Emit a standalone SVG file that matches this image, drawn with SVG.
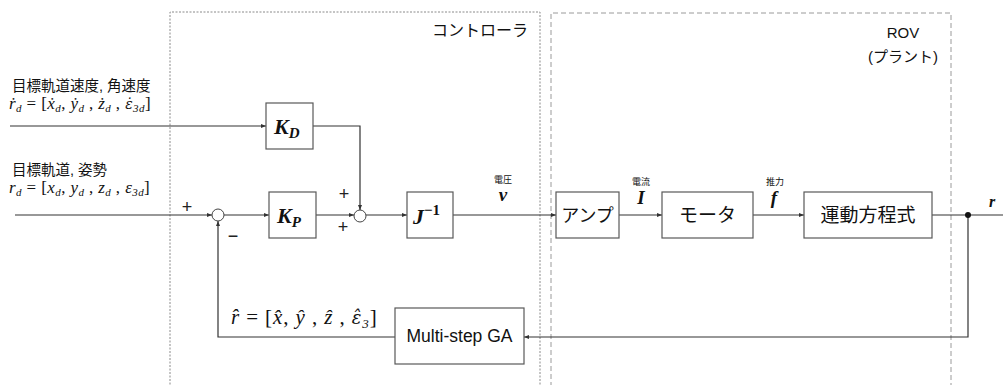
<svg xmlns="http://www.w3.org/2000/svg" width="1003" height="385" viewBox="0 0 1003 385">
<style>
.box{fill:#fff;stroke:#595959;stroke-width:1.2}
.ln{fill:none;stroke:#333;stroke-width:1.2}
.jp{font-family:"Liberation Sans","Noto Sans CJK JP",sans-serif;fill:#111}
.m{font-family:"Liberation Serif","DejaVu Serif",serif;font-style:italic;fill:#111}
.mb{font-family:"Liberation Serif","DejaVu Serif",serif;font-style:italic;font-weight:bold;fill:#111}
.up{font-family:"Liberation Serif",serif;font-style:normal;fill:#111}
.dv{font-family:"DejaVu Serif",serif;font-style:italic}
.pm{font-family:"Liberation Sans",sans-serif;fill:#222;font-size:18px;text-anchor:middle}
</style>
<defs>
<marker id="ah" markerWidth="6" markerHeight="6" refX="5" refY="3" orient="auto" markerUnits="userSpaceOnUse">
<path d="M0,1 L5,3 L0,5 Z" fill="#333"/>
</marker>
</defs>
<rect width="1003" height="385" fill="#fff"/>
<g id="controller-frame">
<path d="M170,395 V12 H540 V395" fill="none" stroke="#8a8a8a" stroke-width="1" stroke-dasharray="2,1.5"/>
<text class="jp" x="528" y="36" font-size="16" text-anchor="end">コントローラ</text>
</g>
<g id="plant-frame">
<path d="M551,395 V13 H951 V395" fill="none" stroke="#9a9a9a" stroke-width="1" stroke-dasharray="5,3"/>
<text class="jp" x="903" y="38" font-size="15" text-anchor="middle">ROV</text>
<text class="jp" x="903" y="62" font-size="15" text-anchor="middle">(プラント)</text>
</g>
<g id="inputs">
<text class="jp" x="12" y="91" font-size="14.5">目標軌道速度, 角速度</text>
<text class="m" x="9" y="109" font-size="17" letter-spacing="0.4">ṙ<tspan font-size="11" dy="3">d</tspan><tspan class="up" dy="-3"> = [</tspan>ẋ<tspan font-size="11" dy="3">d</tspan><tspan class="up" dy="-3">, </tspan>ẏ<tspan font-size="11" dy="3">d</tspan><tspan class="up" dy="-3"> , </tspan>ż<tspan font-size="11" dy="3">d</tspan><tspan class="up" dy="-3"> , </tspan><tspan class="dv" font-size="14">ε̇</tspan><tspan font-size="11" dy="3">3d</tspan><tspan class="up" dy="-3">]</tspan></text>
<text class="jp" x="12" y="175" font-size="14.5">目標軌道, 姿勢</text>
<text class="m" x="9" y="193" font-size="17" letter-spacing="0.4">r<tspan font-size="11" dy="3">d</tspan><tspan class="up" dy="-3"> = [</tspan>x<tspan font-size="11" dy="3">d</tspan><tspan class="up" dy="-3">, </tspan>y<tspan font-size="11" dy="3">d</tspan><tspan class="up" dy="-3"> , </tspan>z<tspan font-size="11" dy="3">d</tspan><tspan class="up" dy="-3"> , </tspan>ε<tspan font-size="11" dy="3">3d</tspan><tspan class="up" dy="-3">]</tspan></text>
</g>
<g id="connectors">
<path class="ln" d="M10,126 H266" marker-end="url(#ah)"/>
<path class="ln" d="M313,126 H360 V210" marker-end="url(#ah)"/>
<path class="ln" d="M15,215 H212" marker-end="url(#ah)"/>
<path class="ln" d="M224,215 H269" marker-end="url(#ah)"/>
<path class="ln" d="M316,215 H354" marker-end="url(#ah)"/>
<path class="ln" d="M366,215 H407" marker-end="url(#ah)"/>
<path class="ln" d="M453,215 H556" marker-end="url(#ah)"/>
<path class="ln" d="M619,215 H662" marker-end="url(#ah)"/>
<path class="ln" d="M753,215 H804" marker-end="url(#ah)"/>
<path class="ln" d="M932,215 H1003"/>
<path class="ln" d="M968,215 V337 H524" marker-end="url(#ah)"/>
<path class="ln" d="M395,337 H218 V221" marker-end="url(#ah)"/>
<circle cx="968" cy="215" r="3" fill="#111"/>
</g>
<g id="sum1">
<circle cx="218" cy="215" r="6" fill="#fff" stroke="#444" stroke-width="1"/>
<text class="pm" x="187" y="213">+</text>
<text class="pm" x="233" y="242">−</text>
</g>
<g id="sum2">
<circle cx="360" cy="216" r="6" fill="#fff" stroke="#444" stroke-width="1"/>
<text class="pm" x="344" y="200">+</text>
<text class="pm" x="343" y="233">+</text>
</g>
<g id="KD">
<rect class="box" x="266" y="103" width="47" height="46"/>
<text class="mb" x="274" y="134" font-size="22">K<tspan font-size="15" dy="4">D</tspan></text>
</g>
<g id="KP">
<rect class="box" x="269" y="192" width="47" height="46"/>
<text class="mb" x="277" y="223" font-size="22">K<tspan font-size="15" dy="4">P</tspan></text>
</g>
<g id="Jinv">
<rect class="box" x="407" y="192" width="46" height="46"/>
<text class="mb" x="413" y="224" font-size="22">J<tspan class="up" font-weight="bold" font-size="15" dy="-9">−1</tspan></text>
</g>
<g id="labels">
<text class="jp" x="503" y="183" font-size="9" text-anchor="middle">電圧</text>
<text class="mb" x="503" y="201" font-size="19" text-anchor="middle">v</text>
<text class="jp" x="641" y="185" font-size="9" text-anchor="middle">電流</text>
<text class="mb" x="641" y="204" font-size="19" text-anchor="middle">I</text>
<text class="jp" x="775" y="185" font-size="9" text-anchor="middle">推力</text>
<text class="mb" x="774" y="204" font-size="19" text-anchor="middle">f</text>
<text class="mb" x="992" y="207" font-size="16" text-anchor="middle">r</text>
<text class="m" x="231" y="324" font-size="21" letter-spacing="0.9">r̂<tspan class="up"> = [</tspan>x̂<tspan class="up">, </tspan>ŷ<tspan class="up"> , </tspan>ẑ<tspan class="up"> , </tspan><tspan class="dv" font-size="18">ε̂</tspan><tspan font-size="13" dy="4">3</tspan><tspan class="up" dy="-4">]</tspan></text>
</g>
<g id="amp">
<rect class="box" x="556" y="192" width="63" height="46"/>
<text class="jp" x="587.5" y="222" font-size="18" text-anchor="middle">アンプ</text>
</g>
<g id="motor">
<rect class="box" x="662" y="192" width="91" height="46"/>
<text class="jp" x="707.5" y="222" font-size="19" text-anchor="middle">モータ</text>
</g>
<g id="eom">
<rect class="box" x="804" y="192" width="128" height="46"/>
<text class="jp" x="868" y="222" font-size="19" text-anchor="middle">運動方程式</text>
</g>
<g id="ga">
<rect class="box" x="395" y="308" width="129" height="56"/>
<text class="jp" x="459.5" y="342" font-size="17.5" text-anchor="middle">Multi-step GA</text>
</g>
</svg>
